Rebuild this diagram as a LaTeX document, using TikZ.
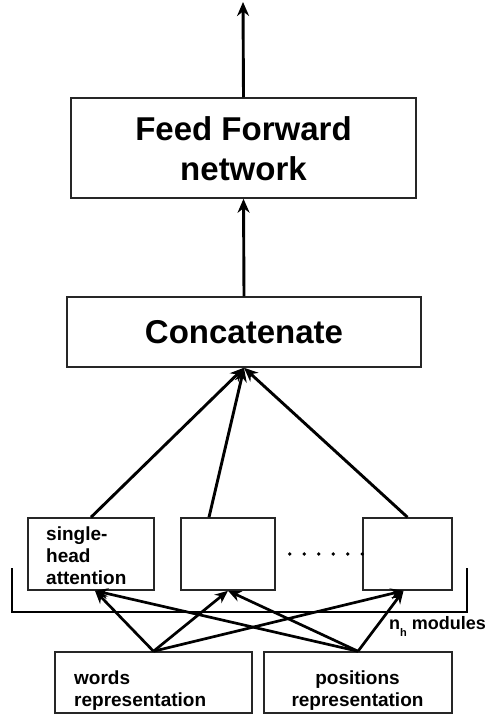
\documentclass[tikz,border=0pt]{standalone}
\usepackage{fontspec}
\setmainfont{Liberation Sans}
\usetikzlibrary{arrows.meta}
\begin{document}
\begin{tikzpicture}[x=1pt,y=-1pt,
  box/.style={draw=black!85,line width=1.5pt,inner sep=0pt,fill=white},
  big/.style={font=\fontsize{33}{40}\selectfont\bfseries,inner sep=0pt},
  small/.style={font=\fontsize{19}{22}\selectfont\bfseries,inner sep=0pt},
  arr/.style={line width=2.9pt,-{Stealth[length=14pt,width=12pt]}},
  arrs/.style={line width=2.7pt,-{Stealth[length=13pt,width=11pt]}}]
\useasboundingbox (0,0) rectangle (488,717);
% boxes
\node[box,minimum width=345pt,minimum height=100pt] (ff) at (243.5,148) {};
\node[box,minimum width=354pt,minimum height=70pt] (cat) at (244,332) {};
\node[box,minimum width=126pt,minimum height=72pt] (b1) at (91,554) {};
\node[box,minimum width=94pt,minimum height=72pt] (b2) at (228,554) {};
\node[box,minimum width=89pt,minimum height=72pt] (b3) at (407.5,554) {};
\node[box,minimum width=197pt,minimum height=61pt] (w) at (153.5,682.5) {};
\node[box,minimum width=188pt,minimum height=61pt] (p) at (358,682.5) {};
% texts
\node[big,anchor=base] (t1) at (243.5,140) {Feed Forward};
\node[big,anchor=base] (t2) at (243.5,180) {network};
\node[big,anchor=base] (t3) at (244,343) {Concatenate};
\node[small,anchor=base west] (s1) at (46,540) {single-};
\node[small,anchor=base west] (s2) at (46,562) {head};
\node[small,anchor=base west] (s3) at (46,584) {attention};
\node[small,anchor=base west] (w1) at (74,684) {words};
\node[small,anchor=base west] (w2) at (74,706) {representation};
\node[small,anchor=base] (p1) at (357.5,684) {positions};
\node[small,anchor=base] (p2) at (357.5,706) {representation};
\node[small,font=\fontsize{18}{22}\selectfont\bfseries,anchor=base west] (nh) at (389,629) {n\raisebox{-7pt}{\fontsize{11}{11}\selectfont h} modules};
% bracket
\coordinate (bl) at (12,568);
\coordinate (br) at (467,568);
\draw[line width=2.8pt] (bl) -- (12,612) -- (467,612) -- (br);
% dotted
\draw[line width=3.6pt,dash pattern=on 0pt off 14.5pt,line cap=round,shorten <=14pt] (b2.east) -- (b3.west);
% arrows
\coordinate (top) at (243,2);
\draw[arr] (ff.north) -- (top);
\draw[arr] (cat.north) -- (ff.south);
\draw[arr] (b1.north) -- (cat.south);
\draw[arr] ([xshift=-19pt]b2.north) -- (cat.south);
\draw[arr] (b3.north) -- (cat.south);
\foreach \s in {w,p}{
  \draw[arrs] (\s.north) -- ([xshift=4pt]b1.south);
  \draw[arrs] (\s.north) -- (b2.south);
  \draw[arrs] (\s.north) -- ([xshift=-4pt]b3.south);
}
\end{tikzpicture}
\end{document}
